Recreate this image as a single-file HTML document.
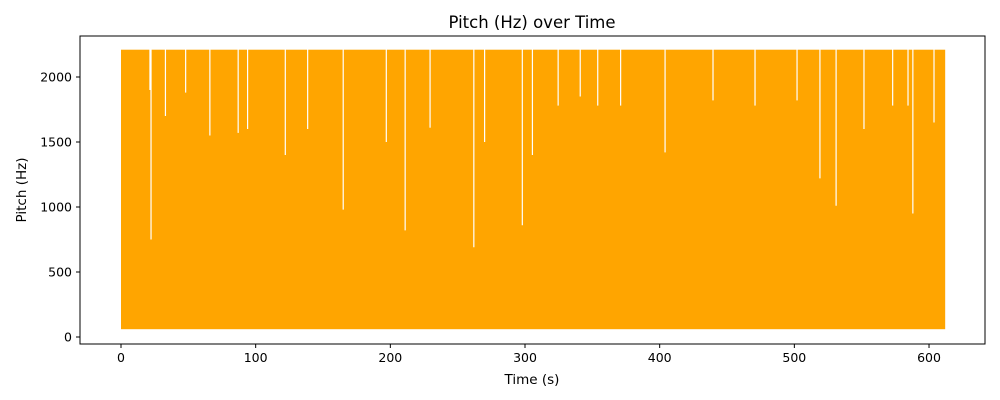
<!DOCTYPE html>
<html><head><meta charset="utf-8"><style>
body{margin:0;background:#fff;}
svg{display:block;font-family:"DejaVu Sans","Liberation Sans",sans-serif;}
</style></head><body>
<svg id="chart" width="1000" height="400">
<rect width="1000" height="400" fill="#fff"/>
<text x="532" y="28" text-anchor="middle" font-size="16.5">Pitch (Hz) over Time</text>
<g id="plot"></g>
<rect x="80" y="36" width="905" height="308" fill="none" stroke="#000" stroke-width="1"/>
<g id="xt"></g>
<g id="yt"></g>
<text x="532" y="384" text-anchor="middle" font-size="13.5">Time (s)</text>
<text transform="translate(26,190) rotate(-90)" text-anchor="middle" font-size="13.5">Pitch (Hz)</text>
</svg>
<script>
const xTicks=[0,100,200,300,400,500,600];
const yTicks=[0,500,1000,1500,2000];
const tStart=0, tEnd=612;
const pitchMin=60, pitchMax=2210;
const dipTimes=[22.3,21.5,33,48,66,87,94,122,138.6,165,197,211,229.5,262,270,298,305.5,324.6,341,354,371,404,439.6,470.8,502,519,531,551.7,573,584.4,588,603.7];
const dipValues=[750,1900,1700,1880,1550,1570,1600,1400,1600,980,1500,820,1610,690,1500,860,1400,1780,1850,1780,1780,1420,1820,1780,1820,1220,1010,1600,1780,1780,950,1650];
const xs=t=>121+t*1.3467;
const ys=v=>337-v*0.13;
const NS='http://www.w3.org/2000/svg';
const plot=document.getElementById('plot');
const area=document.createElementNS(NS,'rect');
area.setAttribute('x',xs(tStart));area.setAttribute('y',ys(pitchMax));
area.setAttribute('width',xs(tEnd)-xs(tStart));area.setAttribute('height',ys(pitchMin)-ys(pitchMax));
area.setAttribute('fill','#ffa500');


plot.appendChild(area);
dipTimes.forEach((t,i)=>{
  const l=document.createElementNS(NS,'line');
  l.setAttribute('x1',xs(t));l.setAttribute('x2',xs(t));
  l.setAttribute('y1',ys(pitchMax)-1);l.setAttribute('y2',ys(dipValues[i]));
  l.setAttribute('stroke','#fff');l.setAttribute('stroke-width','1.2');
  
  
  plot.appendChild(l);
});
const xt=document.getElementById('xt');
xTicks.forEach(v=>{
  const x=xs(v);
  const l=document.createElementNS(NS,'line');
  l.setAttribute('x1',x);l.setAttribute('x2',x);l.setAttribute('y1',344);l.setAttribute('y2',348);l.setAttribute('stroke','#000');
  
  
  xt.appendChild(l);
  const tx=document.createElementNS(NS,'text');
  tx.setAttribute('x',x);tx.setAttribute('y',362);tx.setAttribute('text-anchor','middle');tx.setAttribute('font-size','12.5');
  tx.textContent=v;
  
  
  xt.appendChild(tx);
});
const yt=document.getElementById('yt');
yTicks.forEach(v=>{
  const y=ys(v);
  const l=document.createElementNS(NS,'line');
  l.setAttribute('x1',76);l.setAttribute('x2',80);l.setAttribute('y1',y);l.setAttribute('y2',y);l.setAttribute('stroke','#000');
  
  
  yt.appendChild(l);
  const tx=document.createElementNS(NS,'text');
  tx.setAttribute('x',72);tx.setAttribute('y',y+4.5);tx.setAttribute('text-anchor','end');tx.setAttribute('font-size','12.5');
  tx.textContent=v;
  
  
  yt.appendChild(tx);
});
</script>
</body></html>
